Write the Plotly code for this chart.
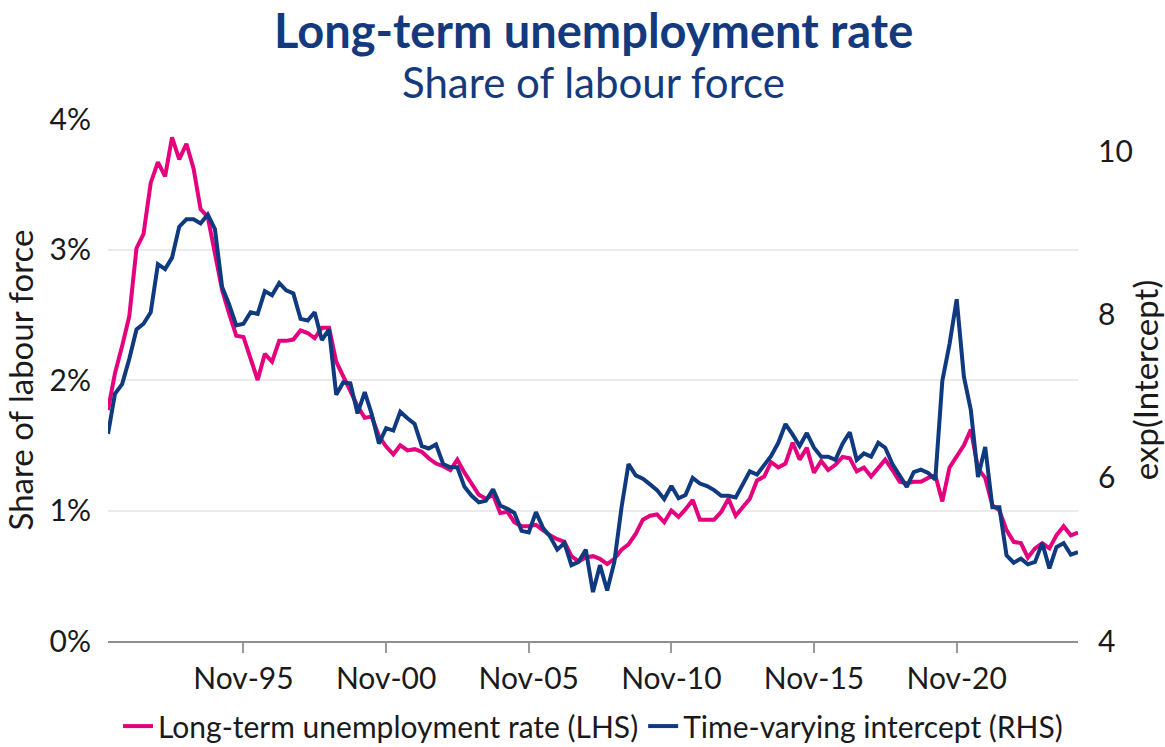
import pandas as pd
import plotly.graph_objects as go

# Quarterly observations, Feb-1991 to Feb-2025
quarters = pd.date_range("1991-02-01", periods=137, freq="3MS")

# Long-term unemployment rate, per cent of labour force (LHS)
ltu_rate = [
    1.77, 2.05, 2.26, 2.49, 3.01, 3.12, 3.51, 3.67, 3.56, 3.86,
    3.69, 3.81, 3.62, 3.31, 3.25, 2.97, 2.69, 2.51, 2.34, 2.33,
    2.17, 2.00, 2.20, 2.14, 2.30, 2.30, 2.31, 2.38, 2.36, 2.32,
    2.40, 2.40, 2.14, 2.03, 1.91, 1.80, 1.71, 1.72, 1.57, 1.49,
    1.43, 1.50, 1.46, 1.47, 1.45, 1.40, 1.36, 1.34, 1.31, 1.39,
    1.29, 1.21, 1.12, 1.09, 1.12, 0.98, 0.99, 0.91, 0.88, 0.88,
    0.89, 0.85, 0.81, 0.78, 0.76, 0.65, 0.61, 0.64, 0.65, 0.63,
    0.59, 0.63, 0.70, 0.74, 0.82, 0.93, 0.96, 0.97, 0.91, 1.00,
    0.95, 1.01, 1.08, 0.93, 0.93, 0.93, 0.99, 1.09, 0.96, 1.03,
    1.09, 1.23, 1.26, 1.37, 1.33, 1.36, 1.52, 1.39, 1.48, 1.29,
    1.38, 1.31, 1.35, 1.41, 1.40, 1.30, 1.33, 1.26, 1.33, 1.39,
    1.31, 1.22, 1.21, 1.22, 1.22, 1.25, 1.27, 1.07, 1.33, 1.41,
    1.50, 1.62, 1.32, 1.25, 1.04, 1.00, 0.85, 0.76, 0.75, 0.64,
    0.71, 0.75, 0.71, 0.81, 0.88, 0.81, 0.83,
]

# Time-varying intercept, exp(intercept) (RHS)
intercept = [
    6.54, 7.03, 7.15, 7.46, 7.82, 7.89, 8.03, 8.62, 8.56, 8.70,
    9.08, 9.17, 9.17, 9.12, 9.23, 9.05, 8.34, 8.13, 7.87, 7.89,
    8.03, 8.01, 8.29, 8.24, 8.39, 8.30, 8.26, 7.95, 7.93, 8.03,
    7.69, 7.82, 7.02, 7.17, 7.16, 6.79, 7.05, 6.78, 6.42, 6.61,
    6.58, 6.81, 6.73, 6.66, 6.39, 6.36, 6.41, 6.17, 6.13, 6.13,
    5.89, 5.78, 5.70, 5.72, 5.86, 5.66, 5.62, 5.57, 5.35, 5.33,
    5.58, 5.39, 5.28, 5.12, 5.20, 4.93, 4.97, 5.12, 4.60, 4.93,
    4.62, 4.97, 5.64, 6.17, 6.03, 5.99, 5.92, 5.85, 5.74, 5.90,
    5.75, 5.79, 6.00, 5.93, 5.90, 5.85, 5.78, 5.78, 5.76, 5.92,
    6.08, 6.04, 6.15, 6.27, 6.43, 6.66, 6.53, 6.39, 6.55, 6.37,
    6.26, 6.26, 6.22, 6.42, 6.56, 6.22, 6.30, 6.26, 6.43, 6.37,
    6.17, 6.03, 5.89, 6.07, 6.10, 6.06, 5.98, 7.19, 7.64, 8.19,
    7.24, 6.83, 6.01, 6.38, 5.64, 5.64, 5.05, 4.96, 5.01, 4.94,
    4.97, 5.20, 4.89, 5.15, 5.20, 5.06, 5.09,
]

x_tick_dates = ["1995-11-01", "2000-11-01", "2005-11-01",
                "2010-11-01", "2015-11-01", "2020-11-01"]
x_tick_labels = ["Nov-95", "Nov-00", "Nov-05", "Nov-10", "Nov-15", "Nov-20"]

lhs_ticks = [0, 1, 2, 3, 4]
lhs_labels = ["0%", "1%", "2%", "3%", "4%"]
rhs_ticks = [4, 6, 8, 10]

PINK = "#e5007e"
NAVY = "#0f3a80"
TITLE_BLUE = "#143a7d"
TEXT = "#1a1a1a"
FONT = "Lato"
SIZE = 30
AXIS_TITLE_SIZE = 33

fig = go.Figure()
fig.add_trace(go.Scatter(
    x=quarters, y=ltu_rate, mode="lines",
    name="Long-term unemployment rate (LHS)",
    line=dict(color=PINK, width=4),
    yaxis="y",
))
fig.add_trace(go.Scatter(
    x=quarters, y=intercept, mode="lines",
    name="Time-varying intercept (RHS)",
    line=dict(color=NAVY, width=4),
    yaxis="y2",
))

fig.update_layout(
    width=1165, height=747,
    margin=dict(l=108, r=87, t=119, b=106),
    paper_bgcolor="white", plot_bgcolor="white",
    font=dict(family=FONT, size=SIZE, color=TEXT),
    showlegend=True,
    legend=dict(
        orientation="h", x=0.5, xanchor="center",
        yref="container", y=0.028, yanchor="middle",
        font=dict(size=SIZE, color=TEXT), itemwidth=30,
        tracegroupgap=0, bgcolor="rgba(0,0,0,0)",
    ),
    xaxis=dict(
        type="date", automargin=False,
        range=[quarters[0], quarters[-1]],
        tickmode="array", tickvals=x_tick_dates, ticktext=x_tick_labels,
        ticks="outside", ticklen=10, tickwidth=1.5, tickcolor="#9a9a9a",
        showline=True, linecolor="#8f8f8f", linewidth=2,
        showgrid=False, zeroline=False,
        tickfont=dict(size=SIZE, color=TEXT),
    ),
    yaxis=dict(
        range=[0, 4], automargin=False,
        tickmode="array", tickvals=lhs_ticks, ticktext=lhs_labels,
        showgrid=True, gridcolor="#ebebeb", gridwidth=1.5,
        zeroline=False, showline=False, ticks="",
        ticklabelstandoff=16,
        tickfont=dict(size=SIZE, color=TEXT),
        title=dict(text="Share of labour force",
                   font=dict(size=AXIS_TITLE_SIZE, color=TEXT), standoff=10),
    ),
    yaxis2=dict(
        range=[4, 10.4], overlaying="y", side="right", automargin=False,
        tickmode="array", tickvals=rhs_ticks,
        showgrid=False, zeroline=False, showline=False, ticks="",
        ticklabelstandoff=19,
        tickfont=dict(size=SIZE, color=TEXT),
        title=dict(text="exp(Intercept)",
                   font=dict(size=AXIS_TITLE_SIZE, color=TEXT), standoff=6),
    ),
    annotations=[
        dict(text="<b>Long-term unemployment rate</b>",
             xref="paper", yref="paper", x=0.5, y=1.1705,
             xanchor="center", yanchor="middle", showarrow=False,
             font=dict(family=FONT, size=47, color=TITLE_BLUE)),
        dict(text="Share of labour force",
             xref="paper", yref="paper", x=0.5, y=1.0705,
             xanchor="center", yanchor="middle", showarrow=False,
             font=dict(family=FONT, size=42, color=TITLE_BLUE)),
    ],
)

fig.write_html("out.html")
